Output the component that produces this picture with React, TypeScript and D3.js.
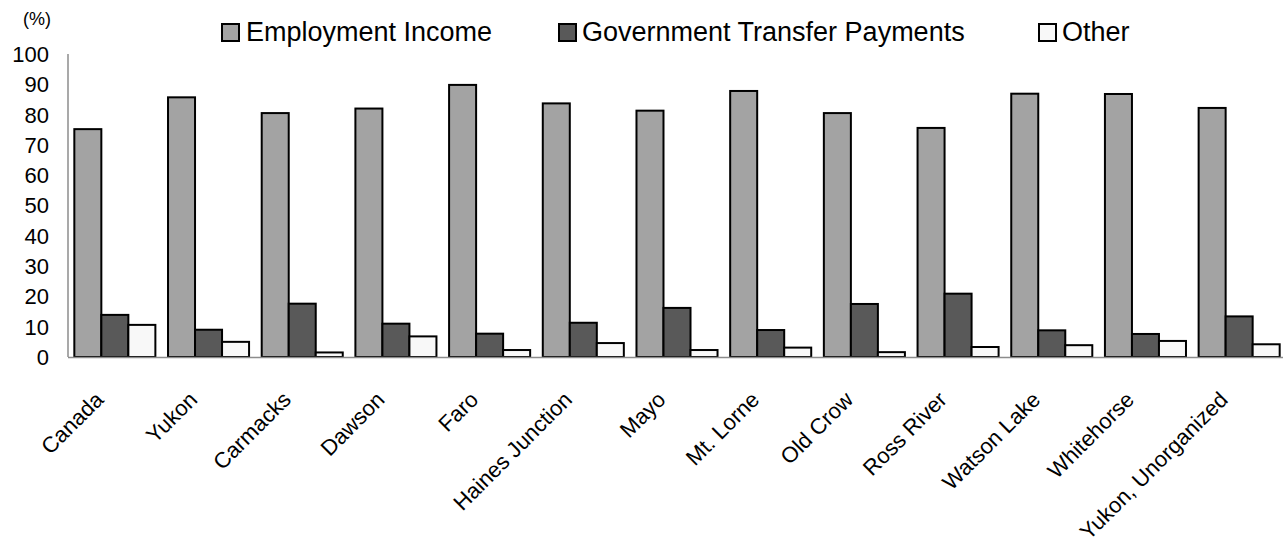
import React from "react";
import * as d3 from "d3";

const categories = [
  "Canada", "Yukon", "Carmacks", "Dawson", "Faro", "Haines Junction", "Mayo",
  "Mt. Lorne", "Old Crow", "Ross River", "Watson Lake", "Whitehorse", "Yukon, Unorganized",
];
const seriesNames = ["Employment Income", "Government Transfer Payments", "Other"];
const employment = [75.2, 85.7, 80.5, 82.0, 89.8, 83.7, 81.3, 87.8, 80.5, 75.6, 86.9, 86.8, 82.2];
const government = [13.9, 9.0, 17.6, 11.0, 7.7, 11.3, 16.2, 8.9, 17.5, 20.9, 8.8, 7.6, 13.4];
const other = [10.6, 5.0, 1.5, 6.8, 2.3, 4.6, 2.3, 3.1, 1.6, 3.3, 3.9, 5.3, 4.2];
const yTicks = [0, 10, 20, 30, 40, 50, 60, 70, 80, 90, 100];
const colors = ["#a3a3a3", "#595959", "#f8f8f8"];

const W = 1284;
const H = 544;
const FONT = "'Liberation Sans', Arial, Helvetica, sans-serif";

export default function App() {
  const values = [employment, government, other];
  const x0 = d3
    .scaleBand<string>()
    .domain(categories)
    .range([68, 1286])
    .paddingInner(0.135)
    .paddingOuter(0.0675);
  const x1 = d3
    .scaleBand<number>()
    .domain([0, 1, 2])
    .range([0, x0.bandwidth()]);
  const y = d3.scaleLinear().domain([0, 100]).range([357, 54]);

  const legendItems = [
    { x: 222, tx: 246 },
    { x: 559, tx: 582 },
    { x: 1039, tx: 1062 },
  ];

  return (
    <svg
      width={W}
      height={H}
      style={{ position: "absolute", left: 0, top: 0, background: "#fff" }}
      fontFamily={FONT}
    >
      <rect x={0} y={0} width={W} height={H} fill="#fff" />
      {/* unit label */}
      <text x={37} y={25} fontSize={18} textAnchor="middle" fill="#000">
        (%)
      </text>
      {/* y tick labels */}
      {yTicks.map((t) => (
        <text
          key={t}
          x={49}
          y={y(t)}
          dy="0.36em"
          fontSize={22}
          textAnchor="end"
          fill="#000"
        >
          {t}
        </text>
      ))}
      {/* bars */}
      {categories.map((c, i) => (
        <g key={c} transform={`translate(${x0(c)},0)`}>
          {values.map((vals, s) => (
            <rect
              key={s}
              x={x1(s)}
              y={y(vals[i])}
              width={x1.bandwidth()}
              height={y(0) - y(vals[i])}
              fill={colors[s]}
              stroke="#000"
              strokeWidth={2}
            />
          ))}
        </g>
      ))}
      {/* axes lines */}
      <line x1={68} x2={68} y1={54} y2={357} stroke="#8c8c8c" strokeWidth={1.5} />
      <line x1={68} x2={1283} y1={357.5} y2={357.5} stroke="#8c8c8c" strokeWidth={1.5} />
      {/* x labels */}
      {categories.map((c) => (
        <text
          key={c}
          transform={`translate(${(x0(c) as number) + x0.bandwidth() / 2 - 10},${401}) rotate(-45)`}
          fontSize={22}
          textAnchor="end"
          fill="#000"
        >
          {c}
        </text>
      ))}
      {/* legend */}
      {seriesNames.map((n, i) => (
        <g key={n}>
          <rect
            x={legendItems[i].x}
            y={24}
            width={17}
            height={17}
            fill={colors[i]}
            stroke="#000"
            strokeWidth={2}
          />
          <text x={legendItems[i].tx} y={41} fontSize={27} fill="#000">
            {n}
          </text>
        </g>
      ))}
    </svg>
  );
}
